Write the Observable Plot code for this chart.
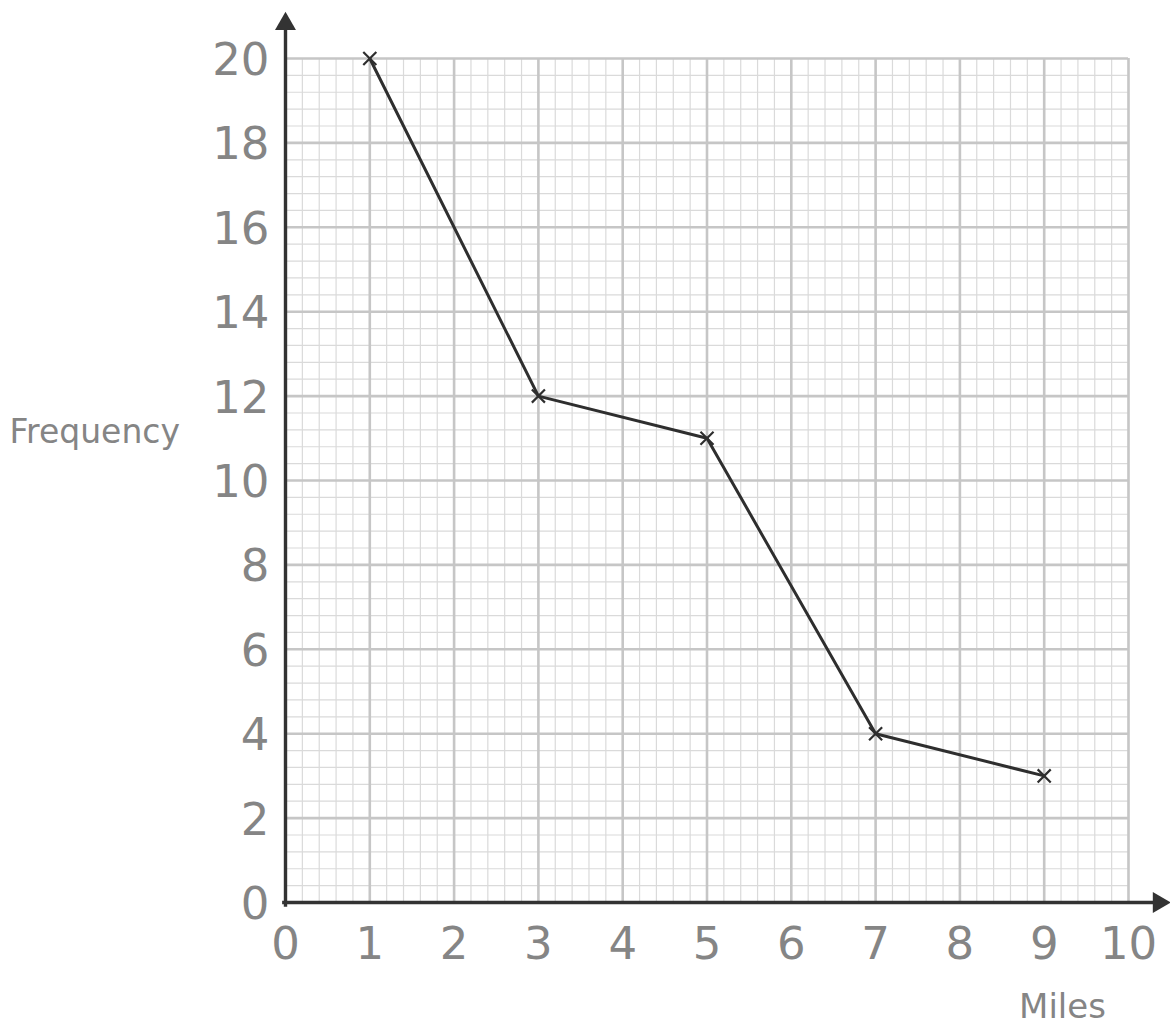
<!DOCTYPE html>
<html>
<head>
<meta charset="utf-8">
<script src="https://cdn.jsdelivr.net/npm/d3@7"></script>
<script src="https://cdn.jsdelivr.net/npm/@observablehq/plot@0.6"></script>
<style>
  html, body { margin: 0; padding: 0; background: #fff; }
  #chart svg { display: block; }
</style>
</head>
<body>
<div id="chart"></div>
<script>
// Data
const miles = [1, 3, 5, 7, 9];
const frequency = [20, 12, 11, 4, 3];
const xTickLabels = [0, 1, 2, 3, 4, 5, 6, 7, 8, 9, 10];
const yTickLabels = [0, 2, 4, 6, 8, 10, 12, 14, 16, 18, 20];
const xLabel = "Miles";
const yLabel = "Frequency";

const points = miles.map((m, i) => ({miles: m, frequency: frequency[i]}));
const xMinor = d3.range(0, 10.001, 0.2);
const yMinor = d3.range(0, 20.001, 0.4);

const font = "'DejaVu Sans', sans-serif";
const labelColor = "#858585";

const chart = Plot.plot({
  width: 1170,
  height: 1035,
  marginLeft: 285,
  marginRight: 42,
  marginTop: 58,
  marginBottom: 133,
  x: {domain: [0, 10], axis: null},
  y: {domain: [0, 20], axis: null},
  style: {background: "#fff", fontFamily: font},
  marks: [
    Plot.ruleX(xMinor, {y1: 0, y2: 20, stroke: "#dadada", strokeWidth: 1.2}),
    Plot.ruleY(yMinor, {x1: 0, x2: 10, stroke: "#dadada", strokeWidth: 1.2}),
    Plot.ruleX(xTickLabels, {y1: 0, y2: 20, stroke: "#c6c6c6", strokeWidth: 2.6}),
    Plot.ruleY(yTickLabels, {x1: 0, x2: 10, stroke: "#c6c6c6", strokeWidth: 2.6}),
    // axes with filled arrowheads
    Plot.link([0], {x1: 0, y1: -0.1, x2: 0, y2: 20.8, stroke: "#333", strokeWidth: 3.4}),
    Plot.link([0], {x1: -0.04, y1: 0, x2: 10.35, y2: 0, stroke: "#333", strokeWidth: 3.4}),
    Plot.dot([0], {x: 0, y: 20.82, symbol: "triangle2", r: 10, fill: "#333", stroke: "none"}),
    Plot.dot([0], {x: 10.36, y: 0, symbol: "triangle2", r: 10, rotate: 90, fill: "#333", stroke: "none"}),
    // tick labels
    Plot.text(xTickLabels, {x: d => d, y: 0, text: d => String(d), dy: 42, fontSize: 45, fill: labelColor, textAnchor: "middle"}),
    Plot.text(yTickLabels, {x: 0, y: d => d, text: d => String(d), dx: -16, dy: 2, fontSize: 45, fill: labelColor, textAnchor: "end"}),
    // axis titles
    Plot.text([yLabel], {frameAnchor: "left", dx: -276, dy: -48, text: d => d, fontSize: 33, fill: labelColor, textAnchor: "start"}),
    Plot.text([xLabel], {frameAnchor: "bottom-right", dx: -66, dy: 115, text: d => d, fontSize: 34, fill: labelColor, textAnchor: "middle"}),
    // data
    Plot.line(points, {x: "miles", y: "frequency", stroke: "#2e2e2e", strokeWidth: 3}),
    Plot.dot(points, {x: "miles", y: "frequency", symbol: "times", r: 6, stroke: "#2e2e2e", strokeWidth: 2.2})
  ]
});
document.getElementById("chart").appendChild(chart);
</script>
</body>
</html>
